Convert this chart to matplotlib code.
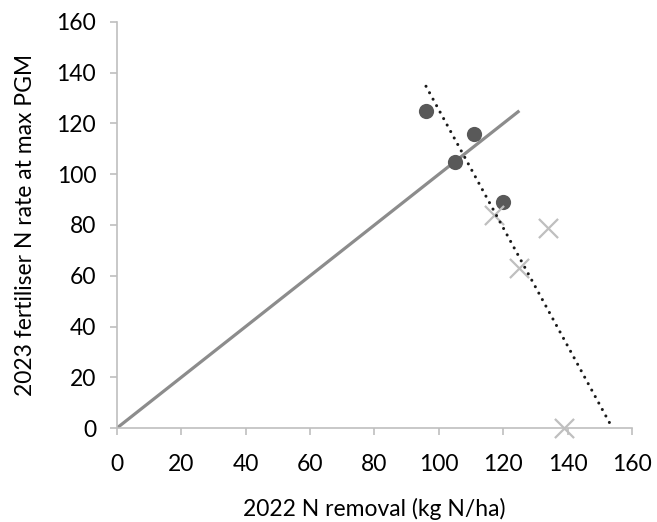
import numpy as np
import matplotlib
matplotlib.use("Agg")
import matplotlib.pyplot as plt

# Data
removal_circles = [96, 105, 111, 120]
rate_circles = [125, 105, 116, 89]
removal_crosses = [117, 125, 134, 139]
rate_crosses = [84, 63, 79, 0]
one_to_one = [0, 125]

plt.rcParams['font.family'] = ['Lato', 'DejaVu Sans']

fig = plt.figure(figsize=(6.57, 5.22), dpi=100)
ax = fig.add_axes([0.178, 0.18, 0.784, 0.778])

# 1:1 line
ax.plot(one_to_one, one_to_one, color='#8C8C8C', linewidth=2.3, solid_capstyle='butt', zorder=2)

# Linear trend over all points, drawn from min x down to y = 0
all_x = np.array(removal_circles + removal_crosses, dtype=float)
all_y = np.array(rate_circles + rate_crosses, dtype=float)
slope, intercept = np.polyfit(all_x, all_y, 1)
x_end = -intercept / slope
tx = np.array([all_x.min(), x_end])
ax.plot(tx, slope * tx + intercept, color='#1a1a1a', linewidth=2.2,
        linestyle=(0, (0.01, 2.4)), dash_capstyle='round', zorder=4, clip_on=False)

ax.scatter(removal_circles, rate_circles, s=120, color='#595959', zorder=3, linewidths=0)
ax.scatter(removal_crosses, rate_crosses, s=190, marker='x', color='#BFBFBF',
           linewidths=1.6, zorder=3, clip_on=False)

ax.set_xlim(0, 160)
ax.set_ylim(0, 160)
ax.set_xticks(np.arange(0, 161, 20))
ax.set_yticks(np.arange(0, 161, 20))

for side in ['top', 'right']:
    ax.spines[side].set_visible(False)
for side in ['left', 'bottom']:
    ax.spines[side].set_color('#BFBFBF')
    ax.spines[side].set_linewidth(1.2)
ax.tick_params(axis='both', colors='#BFBFBF', length=5, width=1.2, labelsize=16.5,
               labelcolor='black')
ax.tick_params(axis='x', pad=14)
ax.tick_params(axis='y', pad=10)

ax.set_xlabel('2022 N removal (kg N/ha)', fontsize=16.5, labelpad=16)
ax.set_ylabel('2023 fertiliser N rate at max PGM', fontsize=16.5, labelpad=15)

plt.savefig('out.png', dpi=100)
